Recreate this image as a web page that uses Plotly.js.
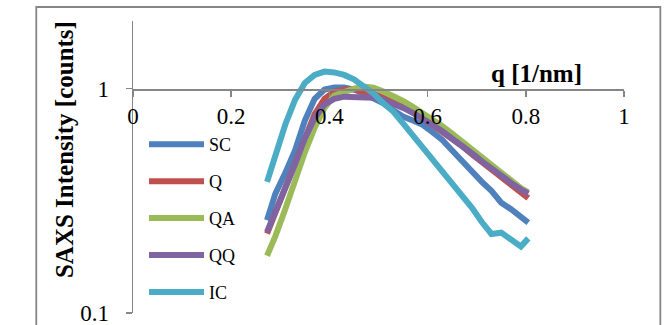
<!DOCTYPE html>
<html>
<head>
<meta charset="utf-8">
<script src="https://cdn.plot.ly/plotly-3.0.1.min.js"></script>
<style>html,body{margin:0;padding:0;background:#fff;}#chart{width:670px;height:325px;}</style>
</head>
<body>
<div id="chart"></div>
<script>
// q values [1/nm]
const q = [0.273,0.29,0.31,0.33,0.35,0.37,0.39,0.41,0.43,0.45,0.47,0.49,0.51,0.53,0.55,0.57,0.59,0.61,0.63,0.65,0.67,0.69,0.71,0.73,0.75,0.77,0.79,0.805];
const seriesNames = ["SC","Q","QA","QQ","IC"];
const SC = [0.259,0.34,0.42,0.53,0.72,0.90,0.99,1.01,1.01,0.99,0.95,0.91,0.86,0.80,0.75,0.72,0.69,0.64,0.59,0.53,0.475,0.43,0.385,0.35,0.31,0.29,0.268,0.253];
const Q  = [0.226,0.28,0.36,0.47,0.62,0.77,0.90,0.97,0.99,0.99,0.97,0.95,0.91,0.87,0.83,0.78,0.74,0.69,0.64,0.60,0.555,0.51,0.47,0.435,0.40,0.375,0.345,0.325];
const QA = [0.18,0.22,0.29,0.39,0.52,0.67,0.82,0.93,0.97,1.00,1.02,1.01,0.97,0.93,0.88,0.83,0.78,0.73,0.68,0.63,0.58,0.54,0.50,0.46,0.42,0.39,0.36,0.345];
const QQ = [0.23,0.28,0.36,0.46,0.60,0.74,0.85,0.90,0.92,0.92,0.92,0.91,0.89,0.86,0.82,0.78,0.74,0.69,0.645,0.60,0.56,0.515,0.475,0.44,0.405,0.38,0.355,0.34];
const IC = [0.384,0.50,0.69,0.89,1.06,1.15,1.19,1.18,1.15,1.10,1.03,0.95,0.86,0.79,0.70,0.62,0.545,0.49,0.43,0.385,0.335,0.295,0.255,0.225,0.228,0.212,0.198,0.215];
const xTickVals = [0,0.2,0.4,0.6,0.8,1];
const xTickText = ["0","0.2","0.4","0.6","0.8","1"];
const yTickVals = [0.1,1];
const yTickText = ["0.1","1"];

const colors = ["#4F81BD","#C0504D","#9BBB59","#8064A2","#4BACC6"];
const values = [SC,Q,QA,QQ,IC];
const traces = values.map((v,i)=>({
  x:q, y:v, type:"scatter", mode:"lines", name:seriesNames[i],
  legendgroup:"g"+i,
  line:{color:colors[i], width:6, shape:"linear"}
}));

const serif = "Liberation Serif, Times New Roman, serif";
const axisColor = "#868686";
const layout = {
  width:670, height:325,
  margin:{l:133, r:45.5, t:21, b:12, pad:0, autoexpand:false},
  paper_bgcolor:"#fff", plot_bgcolor:"rgba(0,0,0,0)",
  font:{family:serif, color:"#000", size:23},
  showlegend:true,
  legend:{x:0.0224, xanchor:"left", y:0.64, yanchor:"top", tracegroupgap:10.5,
          font:{family:serif, size:18, color:"#000"}, bgcolor:"rgba(0,0,0,0)", itemwidth:55},
  xaxis:{range:[0,1], tickvals:xTickVals, ticktext:xTickText, anchor:"free", position:0.767,
         showline:true, linecolor:axisColor, linewidth:1.5, ticks:"outside", ticklen:6, tickwidth:1.5,
         tickcolor:axisColor, showgrid:false, zeroline:false, ticklabelstandoff:0, automargin:false,
         ticklabeloverflow:"allow",
         tickfont:{family:serif, size:23, color:"#000"},
         title:{text:""}},
  yaxis:{type:"log", range:[-1,0.301], tickvals:yTickVals, ticktext:yTickText,
         showline:true, linecolor:axisColor, linewidth:1.5, ticks:"outside", ticklen:6, tickwidth:1.5,
         tickcolor:axisColor, showgrid:false, zeroline:false, ticklabelstandoff:12, automargin:false,
         ticklabeloverflow:"allow",
         tickfont:{family:serif, size:23, color:"#000"},
         title:{text:""}},
  shapes:[{type:"rect", xref:"paper", yref:"paper", x0:-0.197, x1:1.074, y0:-0.3, y1:1.048,
           line:{color:axisColor, width:1.8}, fillcolor:"rgba(0,0,0,0)", layer:"below"}],
  annotations:[
    {text:"<b>q [1/nm]</b>", xref:"paper", yref:"paper", x:(536.5-133)/491.5, y:(313-74)/292,
     xanchor:"center", yanchor:"middle", showarrow:false, font:{family:serif, size:25, color:"#000"}},
    {text:"<b>SAXS Intensity [counts]</b>", xref:"paper", yref:"paper", x:(64-133)/491.5, y:(313-150)/292,
     xanchor:"center", yanchor:"middle", showarrow:false, textangle:-90, font:{family:serif, size:25, color:"#000"}}
  ]
};
Plotly.newPlot("chart", traces, layout, {staticPlot:true, displayModeBar:false});
</script>
</body>
</html>
